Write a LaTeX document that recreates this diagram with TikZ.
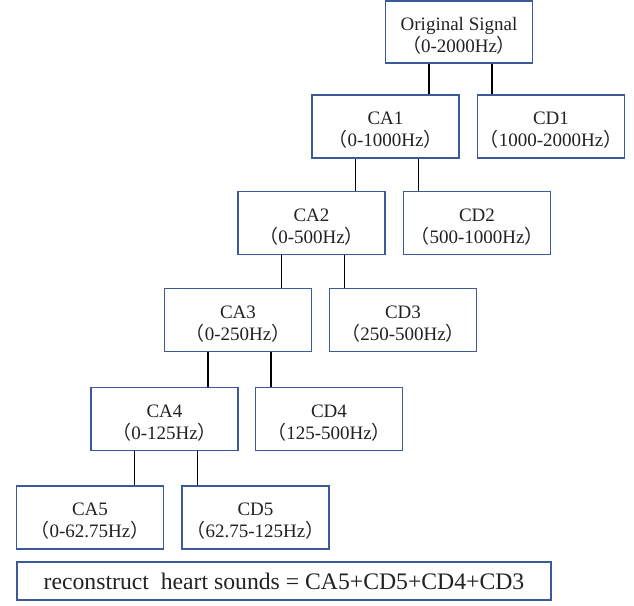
\documentclass[tikz,border=0pt]{standalone}
\usepackage{fontspec}
\setmainfont{Liberation Serif}
\newfontfamily\cjk{Noto Sans CJK SC}
\usepackage{tikz}
\definecolor{boxblue}{RGB}{60,90,154}
\definecolor{inkgray}{RGB}{34,34,34}
\newcommand{\lpar}{{\cjk （}}
\newcommand{\rpar}{{\cjk ）}}
\tikzset{
    band/.style={rectangle,draw=boxblue,line width=1.8pt,fill=white,text=inkgray,
        minimum width=147pt,minimum height=63pt,inner sep=0pt,align=center,
        font=\fontsize{19}{22}\selectfont,text height=42pt},
    link/.style={draw=black,line width=1.8pt}
}

\begin{document}
\begin{tikzpicture}[x=1pt,y=-1pt]
    \useasboundingbox (0,0) rectangle (634,605);

    % Place the boxes
    \node[band,minimum height=62pt] (orig) at (459,32)    {Original Signal\\\lpar0-2000Hz\rpar};
    \node[band] (ca1) at (385.5,126.5) {CA1\\\lpar0-1000Hz\rpar};
    \node[band] (cd1) at (551,126.5)   {CD1\\\lpar1000-2000Hz\rpar};
    \node[band] (ca2) at (311.5,223)   {CA2\\\lpar0-500Hz\rpar};
    \node[band] (cd2) at (477,223)     {CD2\\\lpar500-1000Hz\rpar};
    \node[band] (ca3) at (238,320)     {CA3\\\lpar0-250Hz\rpar};
    \node[band] (cd3) at (403,320)     {CD3\\\lpar250-500Hz\rpar};
    \node[band] (ca4) at (164.5,419)   {CA4\\\lpar0-125Hz\rpar};
    \node[band] (cd4) at (329,419)     {CD4\\\lpar125-500Hz\rpar};
    \node[band] (ca5) at (90,517.5)    {CA5\\\lpar0-62.75Hz\rpar};
    \node[band] (cd5) at (255.5,517.5) {CD5\\\lpar62.75-125Hz\rpar};
    \node[band,minimum width=534pt,minimum height=38pt,text height=,
        font=\fontsize{23.7}{26}\selectfont] (recon) at (284,581)
        {reconstruct\ \ heart sounds = CA5+CD5+CD4+CD3};

    % Draw the links
    \draw[link] ([xshift=-30pt]orig.south) -- ([xshift=-30pt]orig.south |- ca1.north);
    \draw[link] ([xshift=33pt]orig.south)  -- ([xshift=33pt]orig.south |- cd1.north);
    \draw[link] ([xshift=-30pt]ca1.south)  -- ([xshift=-30pt]ca1.south |- ca2.north);
    \draw[link] ([xshift=33pt]ca1.south)   -- ([xshift=33pt]ca1.south |- cd2.north);
    \draw[link] ([xshift=-30pt]ca2.south)  -- ([xshift=-30pt]ca2.south |- ca3.north);
    \draw[link] ([xshift=33pt]ca2.south)   -- ([xshift=33pt]ca2.south |- cd3.north);
    \draw[link] ([xshift=-30pt]ca3.south)  -- ([xshift=-30pt]ca3.south |- ca4.north);
    \draw[link] ([xshift=33pt]ca3.south)   -- ([xshift=33pt]ca3.south |- cd4.north);
    \draw[link] ([xshift=-30pt]ca4.south)  -- ([xshift=-30pt]ca4.south |- ca5.north);
    \draw[link] ([xshift=33pt]ca4.south)   -- ([xshift=33pt]ca4.south |- cd5.north);

\end{tikzpicture}
\end{document}
